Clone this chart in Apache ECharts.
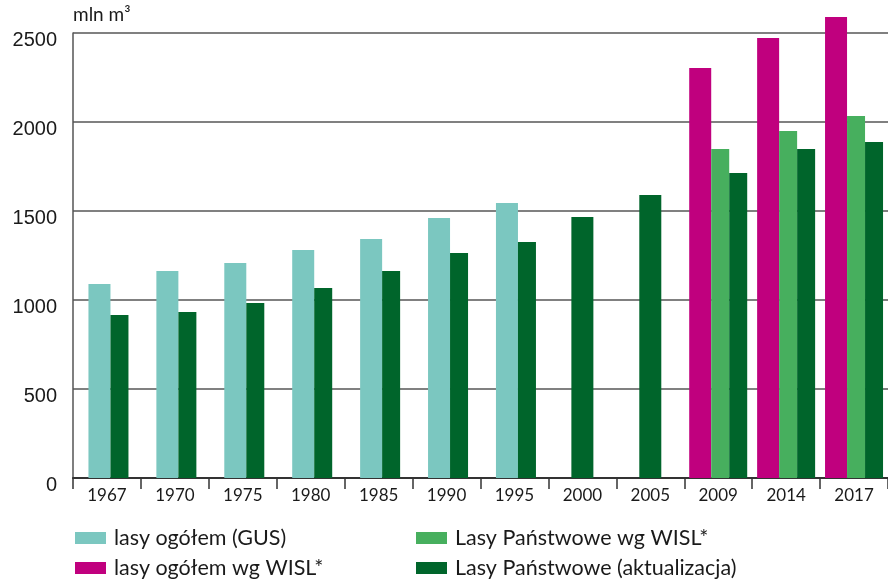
<!DOCTYPE html>
<html>
<head>
<meta charset="utf-8">
<script src="https://cdn.jsdelivr.net/npm/echarts@6/dist/echarts.min.js"></script>
<style>
  html, body { margin: 0; padding: 0; background: #fff; }
  #chart { width: 888px; height: 580px; }
</style>
</head>
<body>
<div id="chart"></div>
<script>
const categories = ["1967", "1970", "1975", "1980", "1985", "1990", "1995", "2000", "2005", "2009", "2014", "2017"];

// wartości w mln m3 (null = brak danych)
const lasyOgolemGus = [1090, 1163, 1208, 1281, 1343, 1461, 1545, null, null, null, null, null];
const lasyOgolemWisl = [null, null, null, null, null, null, null, null, null, 2303, 2472, 2590];
const lpWisl = [null, null, null, null, null, null, null, null, null, 1848, 1949, 2034];
const lpAktualizacja = [916, 933, 983, 1067, 1163, 1264, 1326, 1466, 1590, 1713, 1848, 1888];

const yTicks = [0, 500, 1000, 1500, 2000, 2500];

const seriesDefs = [
  { name: "lasy ogółem (GUS)", data: lasyOgolemGus, color: "#7bc7c0" },
  { name: "lasy ogółem wg WISL*", data: lasyOgolemWisl, color: "#c0007e" },
  { name: "Lasy Państwowe wg WISL*", data: lpWisl, color: "#47af5e" },
  { name: "Lasy Państwowe (aktualizacja)", data: lpAktualizacja, color: "#00652b" },
];

// słupki tylko dla serii obecnych w danej kategorii
function renderBar(params, api) {
  const cat = api.value(0);
  const val = api.value(1);
  const present = seriesDefs
    .map((s, i) => (s.data[cat] != null ? i : -1))
    .filter((i) => i >= 0);
  const k = present.indexOf(params.seriesIndex);
  const band = api.size([1, 0])[0];
  const w0 = band * 0.324;
  const w1 = band * 0.265;
  const total = w0 + (present.length - 1) * w1;
  const top = api.coord([cat, val]);
  const base = api.coord([cat, 0]);
  let x = top[0] - total / 2 + (present.length === 2 ? 1.5 : 0);
  if (k > 0) x += w0 + (k - 1) * w1;
  const w = k === 0 ? w0 : w1;
  return {
    type: "rect",
    shape: { x: x, y: top[1], width: w, height: base[1] - top[1] },
    style: { fill: api.visual("color") },
  };
}

const series = seriesDefs.map((s) => ({
  name: s.name,
  type: "custom",
  renderItem: renderBar,
  itemStyle: { color: s.color },
  encode: { x: 0, y: 1 },
  data: s.data
    .map((v, i) => (v == null ? null : [i, v]))
    .filter((d) => d !== null),
}));

// legenda: 2 kolumny x 2 wiersze
const legendPos = [
  { left: 75, top: 527 },
  { left: 75, top: 557 },
  { left: 416, top: 527 },
  { left: 416, top: 557 },
];

const legend = seriesDefs.map((s, i) => ({
  left: legendPos[i].left,
  top: legendPos[i].top,
  padding: 0,
  itemWidth: 31,
  itemHeight: 12,
  icon: "rect",
  textStyle: {
    fontFamily: "Lato",
    fontSize: 21.5,
    lineHeight: 16,
    color: "#1a1a1a",
    padding: [0, 0, 0, 3],
  },
  data: [s.name],
}));

const options = {
  animation: false,
  grid: { left: 73, right: 0, top: 33, bottom: 102 },
  xAxis: {
    type: "category",
    data: categories,
    axisLine: { lineStyle: { color: "#333", width: 2 } },
    axisTick: { show: true, length: 11, lineStyle: { color: "#333", width: 1.5 } },
    axisLabel: { fontFamily: "Lato", fontSize: 17, color: "#1a1a1a", margin: 9 },
  },
  yAxis: {
    type: "value",
    min: 0,
    max: 2500,
    interval: 500,
    name: "mln m³",
    nameLocation: "end",
    nameGap: 9,
    nameTextStyle: { fontFamily: "Lato", fontSize: 19, color: "#1a1a1a", align: "left" },
    axisLine: { show: true, lineStyle: { color: "#555", width: 1.5 } },
    axisTick: { show: false },
    axisLabel: {
      fontFamily: "Liberation Sans",
      fontSize: 20,
      lineHeight: 14,
      verticalAlign: "top",
      color: "#1a1a1a",
      margin: 16,
      formatter: (v) => (yTicks.includes(v) ? String(v) : ""),
    },
    splitLine: { lineStyle: { color: "#808080", width: 2 } },
  },
  legend,
  series,
};

const chart = echarts.init(document.getElementById("chart"));
chart.setOption(options);
window.addEventListener("resize", function () {
  chart.resize();
});
</script>
</body>
</html>
